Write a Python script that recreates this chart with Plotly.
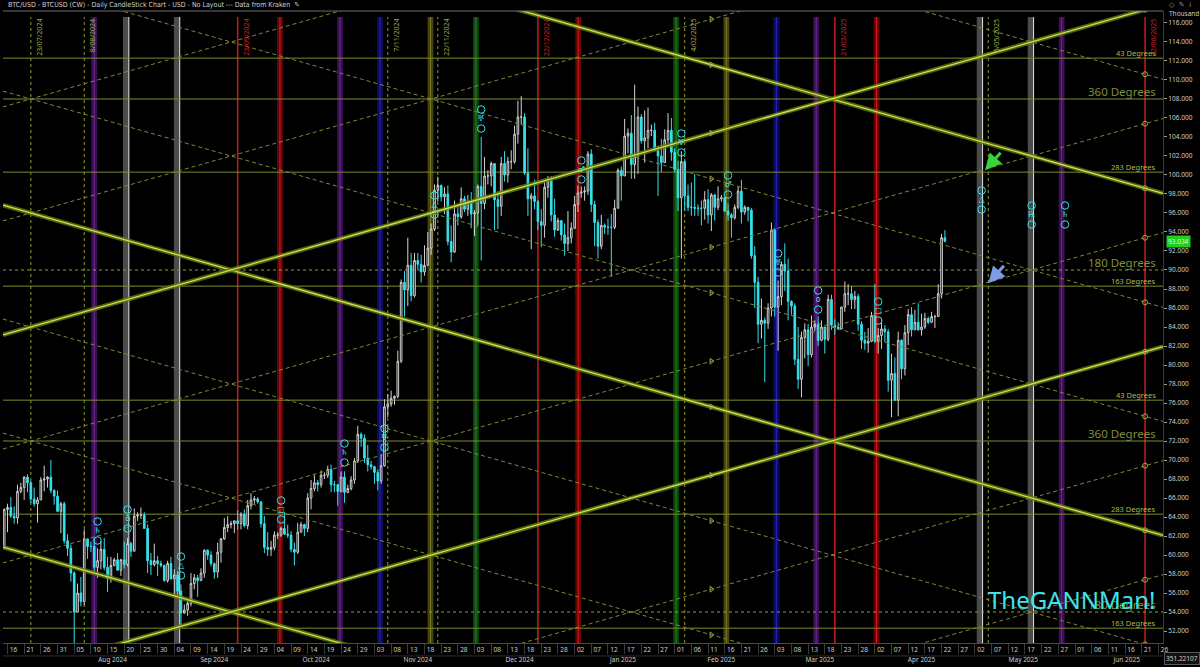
import pandas as pd
import plotly.graph_objects as go

# ---------------- DATA ----------------
first_day = "2024-07-15"

# Daily BTC/USD candles in thousands of USD (15 Jul 2024 -> 23 Apr 2025)
open_k = [
    # Jul
    60.8, 64.8, 65.0, 64.1, 63.9, 66.7, 67.1, 68.2, 67.6, 65.9, 65.4, 65.8, 67.9, 68.0, 68.2, 66.8, 66.2,
    # Aug
    64.6, 65.4, 61.5, 60.7, 58.1, 54.0, 56.0, 55.1, 61.7, 60.9, 60.9, 58.7, 59.4, 60.6, 58.7, 57.5,
    58.9, 59.5, 58.4, 59.5, 59.0, 61.2, 60.4, 64.1, 64.2, 64.2, 62.8, 59.4, 59.0, 59.4, 59.1,
    # Sep
    58.9, 57.3, 59.1, 57.5, 57.9, 56.2, 53.9, 54.2, 54.9, 57.0, 57.6, 57.3, 58.1, 60.5, 60.0, 59.1,
    58.2, 60.3, 61.7, 62.9, 63.2, 63.3, 63.6, 63.3, 64.3, 63.1, 65.2, 65.8, 65.9, 65.6,
    # Oct
    63.3, 60.8, 60.6, 60.8, 62.1, 62.1, 62.8, 62.2, 62.1, 60.6, 60.3, 62.4, 63.2, 62.8, 66.0, 67.0,
    67.6, 67.4, 68.4, 68.4, 69.0, 67.4, 67.4, 66.7, 68.2, 66.6, 67.0, 67.9, 69.9, 72.7, 72.3,
    # Nov
    70.2, 69.5, 69.3, 68.7, 67.8, 69.4, 75.6, 75.9, 76.5, 76.7, 80.4, 88.7, 87.9, 90.5, 87.3, 91.0,
    90.6, 89.8, 90.5, 92.3, 94.3, 98.4, 98.9, 97.7, 98.0, 93.0, 91.9, 95.9, 95.6, 97.5,
    # Dec
    96.4, 97.2, 95.9, 96.0, 98.8, 97.0, 99.9, 99.9, 101.2, 97.4, 96.7, 101.2, 100.0, 101.4, 101.4, 104.3,
    106.1, 106.1, 100.2, 97.5, 97.8, 97.2, 95.1, 94.7, 98.7, 99.4, 95.8, 94.2, 95.2, 93.7, 92.8,
    # Jan
    93.4, 94.4, 96.9, 98.1, 98.2, 98.3, 102.2, 96.9, 95.0, 92.5, 94.7, 94.5, 94.5, 94.5, 96.5, 100.5,
    99.9, 104.1, 104.4, 101.1, 102.0, 106.1, 103.6, 103.9, 104.7, 104.7, 102.6, 102.0, 101.3, 103.7, 104.7,
    # Feb
    102.4, 100.6, 97.6, 101.4, 97.8, 96.6, 96.6, 96.5, 96.5, 96.5, 97.4, 95.8, 97.9, 96.6, 97.5, 97.6,
    96.2, 95.8, 95.5, 96.6, 98.3, 96.1, 96.6, 96.3, 91.5, 88.7, 84.3, 84.7,
    # Mar
    84.4, 86.0, 94.2, 86.1, 87.2, 90.6, 89.9, 86.7, 86.2, 80.6, 78.5, 82.9, 83.7, 81.1, 84.0, 84.3,
    82.6, 84.0, 82.7, 86.9, 84.2, 84.0, 83.8, 86.1, 87.5, 87.5, 86.9, 87.2, 84.3, 82.6, 82.3,
    # Apr
    82.5, 85.2, 82.5, 83.1, 83.8, 83.5, 78.4, 79.1, 76.3, 82.6, 79.6, 83.4, 85.3, 83.7, 84.5, 83.7,
    84.0, 84.9, 84.5, 85.1, 85.1, 87.5, 93.4,
]
high_k = [
    64.9, 65.4, 66.1, 65.1, 67.4, 67.6, 68.3, 68.5, 67.8, 67.1, 66.1, 68.2, 69.4, 68.3, 70.0, 66.9, 66.8,
    65.6, 65.6, 62.2, 61.1, 58.3, 57.0, 57.7, 62.7, 61.7, 61.4, 61.8, 60.7, 61.5, 61.8, 59.8, 59.8,
    59.7, 60.2, 59.6, 61.4, 61.8, 61.4, 64.9, 64.5, 65.0, 64.5, 63.2, 60.2, 61.2, 59.9, 59.4,
    59.0, 59.4, 59.8, 58.5, 58.3, 56.9, 54.8, 55.3, 58.1, 58.0, 57.9, 58.6, 60.6, 60.6, 60.4, 59.2,
    61.3, 61.8, 63.9, 64.1, 63.6, 63.6, 64.7, 64.5, 64.8, 65.8, 66.5, 66.2, 66.1, 65.6,
    64.1, 62.4, 61.5, 62.5, 62.4, 63.0, 64.5, 63.2, 62.5, 61.3, 63.4, 63.5, 63.3, 66.5, 67.9, 68.4,
    67.9, 68.9, 68.7, 69.4, 69.5, 67.8, 67.5, 68.8, 68.8, 67.4, 68.3, 70.2, 73.6, 72.9, 72.7,
    71.6, 69.9, 69.4, 69.0, 70.6, 76.4, 76.9, 77.3, 76.8, 81.5, 89.0, 89.9, 93.4, 91.8, 91.8, 91.8,
    91.6, 92.6, 94.0, 94.9, 99.0, 99.8, 99.0, 98.7, 98.9, 94.7, 97.3, 96.6, 98.7, 97.8,
    97.9, 98.2, 96.3, 99.0, 104.0, 101.9, 100.5, 101.4, 101.2, 98.3, 101.9, 102.5, 101.9, 102.6, 105.2, 107.8,
    108.3, 106.5, 102.8, 98.1, 99.5, 97.4, 96.4, 99.4, 99.9, 99.9, 97.5, 95.5, 95.2, 94.9, 96.2,
    95.0, 97.8, 98.9, 98.8, 98.8, 102.5, 102.7, 97.3, 95.3, 95.8, 94.9, 95.4, 95.9, 97.4, 100.7, 100.9,
    105.9, 104.9, 106.3, 109.5, 107.2, 106.4, 106.8, 107.1, 105.3, 105.5, 103.1, 103.8, 104.8, 106.5, 106.0,
    102.8, 101.5, 102.5, 101.7, 99.0, 99.2, 100.1, 96.9, 97.3, 98.3, 98.5, 98.1, 98.0, 98.8, 97.9, 97.7,
    97.0, 96.0, 96.9, 98.8, 99.5, 96.8, 96.6, 96.5, 92.5, 89.3, 87.0, 85.0,
    86.5, 95.0, 94.4, 88.9, 90.9, 92.8, 91.2, 86.8, 86.5, 84.0, 83.5, 84.4, 84.3, 85.2, 84.7, 85.1,
    84.7, 84.0, 87.4, 87.4, 84.8, 84.5, 86.1, 88.8, 88.5, 88.3, 87.8, 87.5, 84.6, 83.5, 83.9,
    85.6, 88.5, 83.9, 84.7, 84.2, 83.8, 81.2, 80.8, 83.5, 82.7, 84.2, 85.9, 86.1, 85.8, 86.5, 85.4,
    85.5, 85.1, 85.6, 85.3, 88.5, 93.8, 94.2,
]
low_k = [
    60.6, 62.4, 63.9, 63.3, 63.3, 66.5, 65.8, 66.6, 65.5, 65.1, 63.4, 65.8, 66.7, 67.1, 66.5, 65.3, 64.5,
    62.3, 61.2, 59.9, 57.2, 49.0, 54.0, 54.6, 54.7, 59.6, 60.3, 58.3, 57.6, 58.5, 58.4, 56.1, 57.1,
    58.8, 58.4, 57.8, 58.6, 58.8, 59.8, 60.4, 63.6, 63.8, 62.8, 58.1, 57.9, 58.8, 57.8, 58.7,
    57.2, 57.1, 57.4, 55.6, 55.7, 52.6, 53.8, 53.6, 54.6, 56.4, 55.6, 57.3, 57.6, 59.5, 58.8, 57.5,
    57.6, 59.2, 61.6, 62.4, 62.8, 62.3, 62.7, 62.7, 62.9, 62.7, 64.8, 65.4, 65.4, 62.9,
    60.2, 59.9, 59.9, 60.5, 61.7, 61.9, 62.1, 61.8, 60.3, 58.9, 60.1, 62.4, 62.0, 62.4, 64.8, 66.7,
    66.7, 67.1, 68.0, 68.1, 66.6, 66.6, 65.2, 66.6, 65.5, 66.5, 66.8, 67.5, 69.7, 71.4, 69.7,
    68.8, 69.0, 67.5, 66.8, 67.5, 69.3, 74.5, 75.6, 75.8, 76.5, 80.2, 85.1, 86.2, 86.7, 87.1, 90.1,
    88.7, 89.4, 90.4, 91.6, 94.1, 97.2, 97.2, 95.9, 92.6, 90.8, 91.8, 94.7, 95.4, 96.1,
    95.7, 94.4, 93.6, 94.7, 91.0, 96.4, 99.0, 98.8, 94.2, 94.3, 95.7, 99.3, 99.2, 100.6, 101.2, 103.3,
    105.3, 100.0, 95.7, 92.2, 96.4, 94.2, 92.4, 93.4, 97.6, 95.1, 93.5, 94.1, 93.1, 91.5, 92.0,
    92.8, 94.3, 96.1, 97.6, 97.3, 97.9, 96.1, 92.5, 91.2, 92.2, 93.8, 93.7, 89.3, 94.3, 96.5, 97.3,
    99.9, 102.3, 99.6, 99.6, 100.1, 103.3, 101.3, 102.8, 104.1, 102.5, 97.8, 100.3, 101.3, 103.3, 101.5,
    100.3, 96.2, 91.2, 96.2, 96.2, 95.7, 95.7, 95.7, 94.7, 95.3, 94.9, 94.1, 95.2, 96.3, 97.2, 96.1,
    95.2, 93.4, 95.3, 96.4, 94.9, 95.8, 95.1, 91.2, 86.0, 82.3, 82.8, 78.2,
    83.8, 85.1, 85.1, 81.5, 86.3, 87.8, 84.7, 85.3, 80.0, 77.5, 76.6, 80.7, 79.9, 80.8, 83.6, 82.0,
    82.5, 81.2, 82.5, 83.7, 83.2, 83.7, 83.8, 85.6, 86.3, 85.9, 85.9, 83.6, 81.7, 81.6, 81.3,
    82.4, 82.3, 81.2, 81.7, 82.4, 77.2, 74.5, 76.2, 74.6, 78.5, 78.9, 82.1, 83.0, 83.7, 83.6, 83.1,
    83.8, 84.3, 84.4, 83.9, 85.1, 87.0, 92.9,
]
close_k = [
    64.8, 65.0, 64.1, 63.9, 66.7, 67.1, 68.2, 67.6, 65.9, 65.4, 65.8, 67.9, 68.0, 68.2, 66.8, 66.2, 64.6,
    65.4, 61.5, 60.7, 58.1, 54.0, 56.0, 55.1, 61.7, 60.9, 60.9, 58.7, 59.4, 60.6, 58.7, 57.5, 58.9,
    59.5, 58.4, 59.5, 59.0, 61.2, 60.4, 64.1, 64.2, 64.2, 62.8, 59.4, 59.0, 59.4, 59.1, 58.9,
    57.3, 59.1, 57.5, 57.9, 56.2, 53.9, 54.2, 54.9, 57.0, 57.6, 57.3, 58.1, 60.5, 60.0, 59.1, 58.2,
    60.3, 61.7, 62.9, 63.2, 63.3, 63.6, 63.3, 64.3, 63.1, 65.2, 65.8, 65.9, 65.6, 63.3,
    60.8, 60.6, 60.8, 62.1, 62.1, 62.8, 62.2, 62.1, 60.6, 60.3, 62.4, 63.2, 62.8, 66.0, 67.0, 67.6,
    67.4, 68.4, 68.4, 69.0, 67.4, 67.4, 66.7, 68.2, 66.6, 67.0, 67.9, 69.9, 72.7, 72.3, 70.2,
    69.5, 69.3, 68.7, 67.8, 69.4, 75.6, 75.9, 76.5, 76.7, 80.4, 88.7, 87.9, 90.5, 87.3, 91.0, 90.6,
    89.8, 90.5, 92.3, 94.3, 98.4, 98.9, 97.7, 98.0, 93.0, 91.9, 95.9, 95.6, 97.5, 96.4,
    97.2, 95.9, 96.0, 98.8, 97.0, 99.9, 99.9, 101.2, 97.4, 96.7, 101.2, 100.0, 101.4, 101.4, 104.3, 106.1,
    106.1, 100.2, 97.5, 97.8, 97.2, 95.1, 94.7, 98.7, 99.4, 95.8, 94.2, 95.2, 93.7, 92.8, 93.4,
    94.4, 96.9, 98.1, 98.2, 98.3, 102.2, 96.9, 95.0, 92.5, 94.7, 94.5, 94.5, 94.5, 96.5, 100.5, 99.9,
    104.1, 104.4, 101.1, 102.0, 106.1, 103.6, 103.9, 104.7, 104.7, 102.6, 102.0, 101.3, 103.7, 104.7, 102.4,
    100.6, 97.6, 101.4, 97.8, 96.6, 96.6, 96.5, 96.5, 96.5, 97.4, 95.8, 97.9, 96.6, 97.5, 97.6, 96.2,
    95.8, 95.5, 96.6, 98.3, 96.1, 96.6, 96.3, 91.5, 88.7, 84.3, 84.7, 84.4,
    86.0, 94.2, 86.1, 87.2, 90.6, 89.9, 86.7, 86.2, 80.6, 78.5, 82.9, 83.7, 81.1, 84.0, 84.3, 82.6,
    84.0, 82.7, 86.9, 84.2, 84.0, 83.8, 86.1, 87.5, 87.5, 86.9, 87.2, 84.3, 82.6, 82.3, 82.5,
    85.2, 82.5, 83.1, 83.8, 83.5, 78.4, 79.1, 76.3, 82.6, 79.6, 83.4, 85.3, 83.7, 84.5, 83.7, 84.0,
    84.9, 84.5, 85.1, 85.1, 87.5, 93.4, 93.034,
]
last_price_label = "93.034"

# Horizontal Gann degree levels (thousands)
level_values = [112.3, 108.0, 100.3, 90.0, 88.3, 76.3, 72.0, 64.3, 54.0, 52.3]
level_labels = ["43 Degrees", "360 Degrees", "283 Degrees", "180 Degrees", "163 Degrees",
                "43 Degrees", "360 Degrees", "283 Degrees", "180 Degrees", "163 Degrees"]

# Gann angle fan: lines through the pivot date at these prices, +/- rate per day
gann_pivot = "2025-03-20"
gann_rate_k_per_day = 0.1
gann_desc_major = [108, 72, 36]
gann_desc_minor = [120, 96, 84, 60, 48]
gann_asc_major = [108, 72]
gann_asc_minor = [132, 120, 96, 84, 60, 48]
gann_marker_dates = ["2025-02-12", "2025-06-22"]

# Time cycle lines
cycle_dates = ["2024-07-23", "2024-08-08", "2024-11-07", "2024-11-22", "2025-02-04", "2025-05-06"]
cycle_labels = ["23/07/2024", "8/08/2024", "7/11/2024", "22/11/2024", "4/02/2025", "6/05/2025"]
season_dates = ["2024-09-23", "2024-12-22", "2025-03-21", "2025-06-22"]
season_labels = ["23/09/2024", "22/12/2024", "21/03/2025", "22/06/2025"]

# Coloured event bands
band_dates = ["2024-08-11 00:00", "2024-08-20 12:00", "2024-09-04 18:00", "2024-10-05 16:00",
              "2024-10-23 16:00", "2024-11-04 16:00", "2024-11-19 19:00", "2024-12-03 10:00",
              "2025-01-03 02:00", "2025-02-01 10:00", "2025-02-16 12:00", "2025-03-03 12:00",
              "2025-03-15 10:00", "2025-04-02 12:00", "2025-05-03 10:00", "2025-05-18 17:00",
              "2025-05-28 00:00"]
band_kinds = ["purple", "gray", "gray", "red", "purple", "blue", "olive", "green", "red", "green",
              "olive", "blue", "purple", "red", "gray", "gray", "purple"]

# Event glyph markers (date, centre price in thousands, glyph)
glyph_dates = ["2024-08-12", "2024-08-21", "2024-09-06", "2024-10-06", "2024-10-25", "2024-11-06",
               "2024-11-21", "2024-12-05", "2025-01-04", "2025-02-03", "2025-02-17", "2025-03-04",
               "2025-03-16", "2025-04-03", "2025-05-04", "2025-05-19", "2025-05-29"]
glyph_values = [62.53, 63.79, 58.84, 64.74, 70.74, 72.32, 96.84, 105.89, 100.53, 103.37, 98.95,
                90.74, 86.84, 85.68, 97.37, 95.79, 95.79]
glyph_symbols = ["♄", "♁", "△", "□", "♄", "♅", "△", "♅", "♂", "♅", "♂", "♅", "o", "□", "△", "℞", "♄"]

# Arrows (tip date, tip price)
arrow_dates = ["2025-05-05", "2025-05-06"]
arrow_values = [100.5, 88.6]
arrow_colors = ["#35d635", "#7d9be6"]

# ---------------- FIGURE ----------------
dates = pd.date_range(first_day, periods=len(close_k), freq="D")
x_start = pd.Timestamp("2024-07-14 15:40")
x_end = pd.Timestamp("2025-06-27 09:00")
y_range = [50.74, 117.26]
TOP = 0.9905  # vertical lines start just under the frame
FONT = "Noto Sans, Open Sans, sans-serif"
CYAN = "#36e2ec"


def fmt(ts):
    return pd.Timestamp(ts).strftime("%Y-%m-%d %H:%M:%S")


fig = go.Figure()
shapes = []
annotations = []

band_style = {
    "gray": ("rgba(100,100,100,0.75)", "#e4e4e4", "right"),
    "purple": ("rgba(75,18,105,0.8)", "#6c2a92", "center"),
    "red": ("rgba(115,8,8,0.85)", "#d81818", "center"),
    "blue": ("rgba(14,14,105,0.9)", "#2626aa", "center"),
    "olive": ("rgba(85,85,18,0.8)", "#7a7a26", "center"),
    "green": ("rgba(14,80,14,0.85)", "#1f8c1f", "center"),
}
half = pd.Timedelta(hours=21)
for d, kind in zip(band_dates, band_kinds):
    c = pd.Timestamp(d)
    fill, edge, where = band_style[kind]
    shapes.append(dict(type="rect", xref="x", yref="paper", x0=fmt(c - half), x1=fmt(c + half),
                       y0=0, y1=TOP, fillcolor=fill, line_width=0, layer="below"))
    xe = c + half if where == "right" else c
    shapes.append(dict(type="line", xref="x", yref="paper", x0=fmt(xe), x1=fmt(xe), y0=0, y1=TOP,
                       line=dict(color=edge, width=1), layer="below"))

for d, lab in zip(cycle_dates, cycle_labels):
    shapes.append(dict(type="line", xref="x", yref="paper", x0=d, x1=d, y0=0, y1=TOP,
                       line=dict(color="#8e9c3c", width=1, dash="dot"), layer="below"))
    annotations.append(dict(x=d, xref="x", y=TOP, yref="paper", text=lab, textangle=-90,
                            xanchor="left", yanchor="top", xshift=2, showarrow=False,
                            font=dict(family=FONT, size=7, color="#9aab44")))
for d, lab in zip(season_dates, season_labels):
    shapes.append(dict(type="line", xref="x", yref="paper", x0=d, x1=d, y0=0, y1=TOP,
                       line=dict(color="#c81c1c", width=1.5), layer="below"))
    annotations.append(dict(x=d, xref="x", y=TOP, yref="paper", text=lab, textangle=-90,
                            xanchor="left", yanchor="top", xshift=2, showarrow=False,
                            font=dict(family=FONT, size=7, color="#d42020")))

# horizontal degree levels
for v, lab in zip(level_values, level_labels):
    big = lab.startswith("360") or lab.startswith("180")
    shapes.append(dict(type="line", xref="paper", yref="y", x0=0, x1=1, y0=v, y1=v,
                       line=dict(color="#7e8c2c" if not lab.startswith("180") else "#8e9a44",
                                 width=1, dash="dot" if lab.startswith("180") else "solid"),
                       layer="below"))
    annotations.append(dict(x=0.9957, xref="paper", y=v, yref="y", text=lab, showarrow=False,
                            xanchor="right", yanchor="bottom", yshift=-2,
                            font=dict(family=FONT, size=11.5 if big else 7.5,
                                      color="#7f8f3c" if big else "#a9bb48")))

# frame top
shapes.append(dict(type="line", xref="paper", yref="paper", x0=0, x1=1, y0=1, y1=1,
                   line=dict(color="#6c6c6c", width=1)))
# separator between day row and month row
shapes.append(dict(type="line", xref="paper", yref="paper", x0=0, x1=1, y0=-0.0205, y1=-0.0205,
                   line=dict(color="#2e2e2e", width=1)))

# Gann angle lines
pivot = pd.Timestamp(gann_pivot)
xs = [x_start, x_end]
ts = [(x - pivot).total_seconds() / 86400 for x in xs]
mk_ts = [(pd.Timestamp(m) - pivot).total_seconds() / 86400 for m in gann_marker_dates]


def gann_line(p, sign, major):
    ys = [p + sign * gann_rate_k_per_day * t for t in ts]
    xx = [fmt(x) for x in xs]
    if major:
        fig.add_trace(go.Scatter(x=xx, y=ys, mode="lines", line=dict(color="rgba(96,122,16,0.8)", width=4.5),
                                 hoverinfo="skip", showlegend=False))
        fig.add_trace(go.Scatter(x=xx, y=ys, mode="lines", line=dict(color="#d2e24e", width=1.3),
                                 hoverinfo="skip", showlegend=False))
    else:
        fig.add_trace(go.Scatter(x=xx, y=ys, mode="lines",
                                 line=dict(color="#7f8738", width=1, dash="4px,3px"),
                                 hoverinfo="skip", showlegend=False))
    my = [p + sign * gann_rate_k_per_day * t for t in mk_ts]
    fig.add_trace(go.Scatter(x=gann_marker_dates, y=my, mode="markers",
                             marker=dict(symbol=["triangle-right-open", "circle-open"], size=5,
                                         color="#9ea84a", line=dict(width=1)),
                             hoverinfo="skip", showlegend=False, cliponaxis=True))


for p in gann_desc_minor:
    gann_line(p, -1, False)
for p in gann_asc_minor:
    gann_line(p, +1, False)
for p in gann_desc_major:
    gann_line(p, -1, True)
for p in gann_asc_major:
    gann_line(p, +1, True)

# candles
fig.add_trace(go.Candlestick(
    x=dates, open=open_k, high=high_k, low=low_k, close=close_k,
    increasing=dict(line=dict(color="#d2d2d2", width=1), fillcolor="#0a0a0a"),
    decreasing=dict(line=dict(color=CYAN, width=1), fillcolor=CYAN),
    whiskerwidth=0, hoverinfo="skip", showlegend=False))

# glyph markers
fig.add_trace(go.Scatter(x=glyph_dates, y=[v + 1.0 for v in glyph_values], mode="markers",
                         marker=dict(symbol="circle-open", size=7.5, color=CYAN, line=dict(width=1)),
                         hoverinfo="skip", showlegend=False))
fig.add_trace(go.Scatter(x=glyph_dates, y=[v - 1.0 for v in glyph_values], mode="markers",
                         marker=dict(symbol="circle-open", size=7.5, color=CYAN, line=dict(width=1)),
                         hoverinfo="skip", showlegend=False))
fig.add_trace(go.Scatter(x=glyph_dates, y=glyph_values, mode="text", text=glyph_symbols,
                         textfont=dict(family="DejaVu Sans, sans-serif", size=8, color=CYAN),
                         hoverinfo="skip", showlegend=False))

# dummy traces for overlay axes
fig.add_trace(go.Scatter(x=[fmt(x_start)], y=[None], xaxis="x2", mode="lines", showlegend=False, hoverinfo="skip"))
fig.add_trace(go.Scatter(x=[fmt(x_start)], y=[None], xaxis="x3", mode="lines", showlegend=False, hoverinfo="skip"))

# arrows
for d, v, c in zip(arrow_dates, arrow_values, arrow_colors):
    annotations.append(dict(x=d, y=v, xref="x", yref="y", ax=17, ay=-19, showarrow=True,
                            arrowhead=2, arrowsize=1.1, arrowwidth=3, arrowcolor=c, text=""))

# texts
annotations += [
    dict(x=0.9957, xref="paper", y=55.3, yref="y", text="TheGANNMan!", showarrow=False,
         xanchor="right", yanchor="middle",
         font=dict(family="Noto Sans, sans-serif", size=24, color="#3fe3e6")),
    dict(x=0.0026, xref="paper", y=1.0095, yref="paper",
         text="BTC/USD - BTCUSD (CW) - Daily CandleStick Chart - USD - No Layout --- Data from Kraken  ✎",
         showarrow=False, xanchor="left", yanchor="middle",
         font=dict(family="Liberation Sans Narrow, DejaVu Sans Condensed, sans-serif", size=7, color="#d2d2d2")),
    dict(x=1.0, xref="paper", y=1.0095, yref="paper", text="◇  ✎  ⅰ", showarrow=False,
         xanchor="left", yanchor="middle", xshift=4,
         font=dict(family="DejaVu Sans, sans-serif", size=7, color="#9a9a9a")),
    dict(x=1.0, xref="paper", y=0.9965, yref="paper", text="Thousand", showarrow=False,
         xanchor="left", yanchor="middle", xshift=4,
         font=dict(family=FONT, size=6.5, color="#cccccc")),
    dict(x=1.0, xref="paper", y=float(close_k[-1]), yref="y", text=last_price_label, showarrow=False,
         xanchor="left", yanchor="middle", xshift=3, bgcolor="#20cf20", borderpad=1,
         font=dict(family=FONT, size=6.5, color="#d8ffd8")),
    dict(x=1.0, xref="paper", y=-0.024, yref="paper", text="351.22107", showarrow=False,
         xanchor="left", yanchor="middle", xshift=1, bgcolor="#111111", bordercolor="#5a5a5a",
         borderwidth=1, borderpad=1, font=dict(family=FONT, size=6.5, color="#cfcfcf")),
]

xr = [fmt(x_start), fmt(x_end)]
fig.update_layout(
    width=1200, height=667,
    margin=dict(l=3, r=37, t=11, b=24, pad=0),
    paper_bgcolor="#000000", plot_bgcolor="#000000",
    showlegend=False,
    shapes=shapes, annotations=annotations,
    xaxis=dict(type="date", range=xr, showgrid=False, zeroline=False,
               tick0="2024-07-16", dtick=5 * 86400000, tickformat="%d", ticks="",
               ticklabelshift=6, tickfont=dict(family=FONT, size=6.5, color="#cfcfcf"),
               showline=True, linecolor="#4a4a4a", rangeslider=dict(visible=False)),
    xaxis2=dict(type="date", range=xr, overlaying="x", anchor="y", side="bottom",
                showgrid=False, zeroline=False, tick0="2024-07-16", dtick=5 * 86400000,
                ticks="outside", ticklen=10, tickcolor="#3a3a3a", showticklabels=False),
    xaxis3=dict(type="date", range=xr, overlaying="x", anchor="y", side="bottom",
                showgrid=False, zeroline=False, dtick="M1", ticklabelmode="period",
                tickformat="%b %Y", ticks="", ticklabelstandoff=11,
                tickfont=dict(family=FONT, size=6.5, color="#cfcfcf")),
    yaxis=dict(side="right", range=y_range, showgrid=False, zeroline=False,
               tick0=0, dtick=2, tickformat=".3f", ticks="outside", ticklen=3, tickcolor="#9a9a9a",
               tickfont=dict(family=FONT, size=6.5, color="#cfcfcf"),
               showline=True, linecolor="#3a3a3a"),
)

fig.write_html("out.html", config={"displayModeBar": False},
               post_script="document.body.style.margin='0';document.body.style.background='#000';")
